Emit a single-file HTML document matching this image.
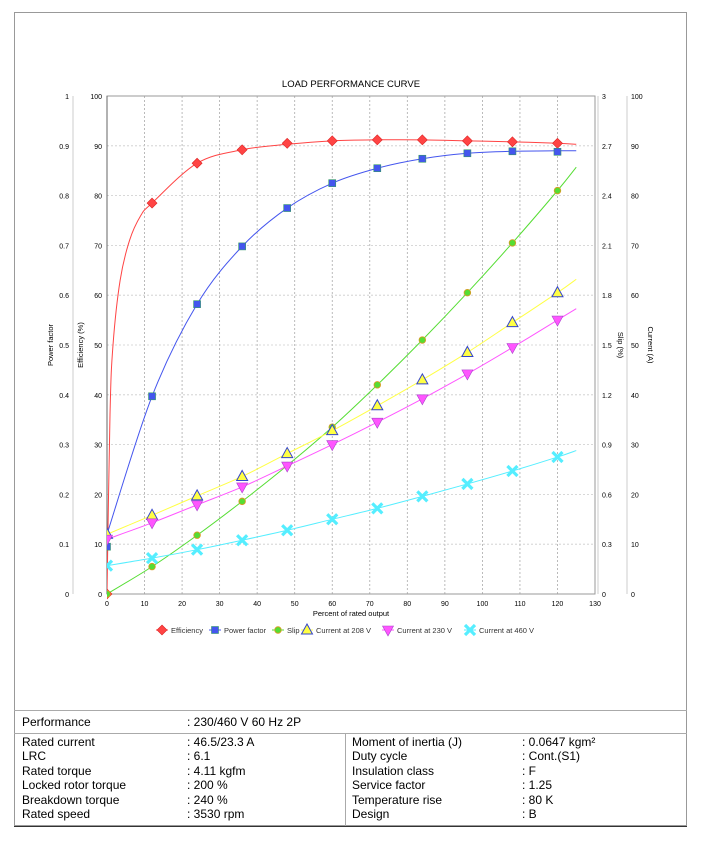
<!DOCTYPE html>
<html><head><meta charset="utf-8"><style>
body{margin:0;background:#fff;font-family:"Liberation Sans",sans-serif}
#f{position:absolute;left:14px;top:12px;width:673px;height:814px;border:1px solid #999;box-sizing:border-box}
.t{position:absolute;font-size:12px;color:#000;white-space:nowrap}
</style></head><body>
<div id="f"></div>
<svg id="s" width="703" height="845" style="position:absolute;left:0;top:0" font-family="Liberation Sans, DejaVu Sans, sans-serif"></svg>
<div style="position:absolute;left:14px;top:710px;width:673px;border-top:1px solid #aaa"></div>
<div style="position:absolute;left:14px;top:733px;width:673px;border-top:1px solid #aaa"></div>
<div style="position:absolute;left:345px;top:733px;height:93px;border-left:1px solid #aaa"></div>
<div style="position:absolute;left:14px;top:826px;width:673px;border-top:1px solid #333"></div>
<div class="t" style="left:22px;top:715px">Performance</div>
<div class="t" style="left:187px;top:715px">: 230/460 V 60 Hz 2P</div>
<div class="t" style="left:22px;top:735px;line-height:14.4px">Rated current<br>LRC<br>Rated torque<br>Locked rotor torque<br>Breakdown torque<br>Rated speed</div>
<div class="t" style="left:187px;top:735px;line-height:14.4px">: 46.5/23.3 A<br>: 6.1<br>: 4.11 kgfm<br>: 200 %<br>: 240 %<br>: 3530 rpm</div>
<div class="t" style="left:352px;top:735px;line-height:14.4px">Moment of inertia (J)<br>Duty cycle<br>Insulation class<br>Service factor<br>Temperature rise<br>Design</div>
<div class="t" style="left:522px;top:735px;line-height:14.4px">: 0.0647 kgm²<br>: Cont.(S1)<br>: F<br>: 1.25<br>: 80 K<br>: B</div>
<script>
const X=x=>107+x*3.754, Y=v=>594-v*4.98;
let h='<defs><clipPath id="cp"><rect x="107" y="90" width="500" height="510"/></clipPath></defs>';
h+='<text x="351" y="87" font-size="9.5" text-anchor="middle">LOAD PERFORMANCE CURVE</text>';
for(let i=1;i<13;i++)h+=`<line x1="${X(i*10)}" y1="96" x2="${X(i*10)}" y2="594" stroke="#aaa" stroke-dasharray="2,2" stroke-width="0.8"/>`;
for(let i=1;i<10;i++)h+=`<line x1="107" y1="${Y(i*10)}" x2="595" y2="${Y(i*10)}" stroke="#ccc" stroke-dasharray="2,2" stroke-width="0.8"/>`;
h+='<rect x="107" y="96" width="488" height="498" fill="none" stroke="#999"/>';
h+='<line x1="107" y1="96" x2="107" y2="594" stroke="#666"/>';
['73','598','627'].forEach(x=>h+=`<line x1="${x}" y1="96" x2="${x}" y2="594" stroke="#ccc"/>`);
for(let i=0;i<=10;i++){const y=Y(i*10)+3;
h+=`<text x="69" y="${y}" font-size="7" text-anchor="end">${i==0?'0':i==10?'1':'0.'+i}</text>`;
h+=`<text x="102" y="${y}" font-size="7" text-anchor="end">${i*10}</text>`;
h+=`<text x="602" y="${y}" font-size="7">${i==0?'0':(i*0.3).toFixed(1).replace('3.0','3')}</text>`;
h+=`<text x="631" y="${y}" font-size="7">${i*10}</text>`;}
for(let i=0;i<=13;i++)h+=`<text x="${X(i*10)}" y="606" font-size="7" text-anchor="middle">${i*10}</text>`;
h+='<text x="351" y="616" font-size="7.5" text-anchor="middle">Percent of rated output</text>';
h+='<text transform="translate(53,345) rotate(-90)" font-size="7.5" text-anchor="middle">Power factor</text>';
h+='<text transform="translate(83,345) rotate(-90)" font-size="7.5" text-anchor="middle">Efficiency (%)</text>';
h+='<text transform="translate(618,345) rotate(90)" font-size="7.5" text-anchor="middle">Slip (%)</text>';
h+='<text transform="translate(648,345) rotate(90)" font-size="7.5" text-anchor="middle">Current (A)</text>';
function spline(p){let d=`M${X(p[0][0])},${Y(p[0][1])}`;const q=p.map(a=>[X(a[0]),Y(a[1])]);
for(let i=0;i<q.length-1;i++){const p0=q[i-1]||q[i],p1=q[i],p2=q[i+1],p3=q[i+2]||p2;
d+=`C${p1[0]+(p2[0]-p0[0])/6},${p1[1]+(p2[1]-p0[1])/6} ${p2[0]-(p3[0]-p1[0])/6},${p2[1]-(p3[1]-p1[1])/6} ${p2[0]},${p2[1]}`;}return d;}
const xs=[0,12,24,36,48,60,72,84,96,108,120];
const S=[
{c:'#ff4444',pts:[[0,0],[0.8,36],[1.6,50],[3.5,63],[6,71],[9,76],[12,78.5],[24,86.5],[36,89.2],[48,90.3],[60,91],[72,91.2],[84,91.2],[96,91],[108,90.8],[120,90.5],[125,90.3]],m:[0,78.5,86.5,89.2,90.5,91,91.2,91.2,91,90.8,90.5],t:'d'},
{c:'#4455ee',pts:[[0,12],[12,39.7],[24,58.2],[36,69.8],[48,77.5],[60,82.5],[72,85.5],[84,87.4],[96,88.5],[108,88.9],[120,89],[125,89]],m:[9.5,39.7,58.2,69.8,77.5,82.5,85.5,87.4,88.5,88.9,88.8],t:'s'},
{c:'#55dd33',m:[0,5.5,11.8,18.6,25.8,33.5,42,51,60.5,70.5,81],t:'c',curve:[0,5.5,11.8,18.6,25.8,33.5,42,51,60.5,70.5,81,85.7]},
{c:'#ffff44',m:[12,15.8,19.7,23.6,28.2,32.8,37.8,43,48.5,54.5,60.5],t:'u',e:63.2},
{c:'#ff55ff',m:[11,14.3,17.9,21.5,25.7,30,34.5,39.2,44.2,49.5,55],t:'v',e:57.3},
{c:'#55eeff',m:[5.7,7.2,8.9,10.8,12.8,15,17.2,19.6,22.1,24.7,27.5],t:'x',e:28.8}];
function mk(t,x,y,c){switch(t){
case 'd':return `<path d="M${x},${y-5}L${x+5},${y}L${x},${y+5}L${x-5},${y}Z" fill="${c}" stroke="#dd2222" stroke-width=".6"/>`;
case 's':return `<rect x="${x-3.5}" y="${y-3.5}" width="7" height="7" fill="${c}" stroke="#339966" stroke-width=".6"/>`;
case 'c':return `<circle cx="${x}" cy="${y}" r="3.3" fill="${c}" stroke="#dd9922" stroke-width=".8"/>`;
case 'u':return `<path d="M${x},${y-6}L${x+5.5},${y+4}L${x-5.5},${y+4}Z" fill="${c}" stroke="#3344cc" stroke-width="1"/>`;
case 'v':return `<path d="M${x-5.5},${y-4}L${x+5.5},${y-4}L${x},${y+6}Z" fill="${c}" stroke="#aa44cc" stroke-width=".6"/>`;
case 'x':return `<path d="M${x-5},${y-5}L${x+5},${y+5}M${x+5},${y-5}L${x-5},${y+5}" stroke="${c}" stroke-width="3.2"/>`;}}
h+='<g clip-path="url(#cp)">';
S.forEach(s=>{let p=s.pts;if(!p){p=xs.map((x,i)=>[x,s.m[i]]);p.push([125,s.e]);}
if(s.curve)p=[...xs,125].map((x,i)=>[x,s.curve[i]]);
h+=`<path d="${spline(p)}" fill="none" stroke="${s.c}" stroke-width="1"/>`;});
S.forEach(s=>xs.forEach((x,i)=>h+=mk(s.t,X(x),Y(s.m[i]),s.c)));
h+='</g>';
const L=[['d','Efficiency',162],['s','Power factor',215],['c','Slip',278],['u','Current at 208 V',307],['v','Current at 230 V',388],['x','Current at 460 V',470]];
L.forEach((l,i)=>{const c=S[i].c;h+=`<line x1="${l[2]-6}" y1="630" x2="${l[2]+6}" y2="630" stroke="${c}"/>`+mk(l[0],l[2],630,c)+`<text x="${l[2]+9}" y="633" font-size="7.5" fill="#333">${l[1]}</text>`;});
document.getElementById('s').innerHTML=h;
</script>
</body></html>
